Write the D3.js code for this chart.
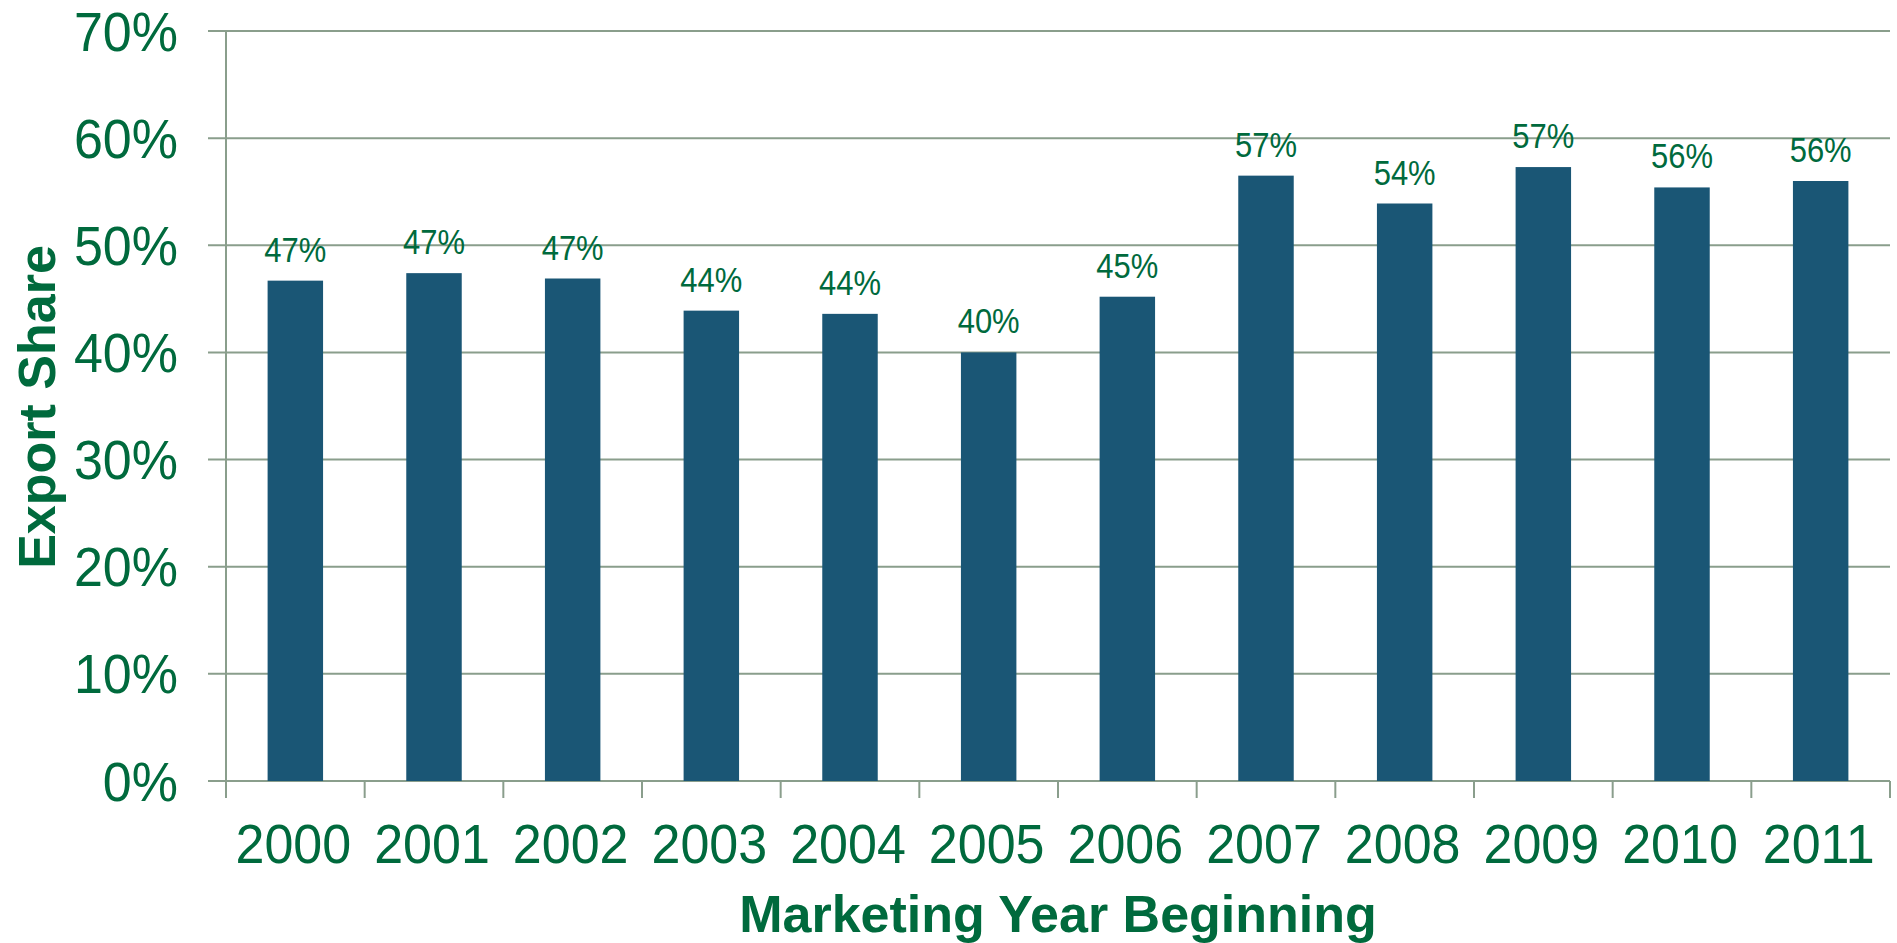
<!DOCTYPE html>
<html>
<head>
<meta charset="utf-8">
<script src="https://cdn.jsdelivr.net/npm/d3@7"></script>
<style>
  body { margin: 0; background: #fff; }
  text { font-family: "Liberation Sans", Arial, sans-serif; fill: #006a3d; }
</style>
</head>
<body>
<div id="chart"></div>
<script>
// chart data
var years = ["2000", "2001", "2002", "2003", "2004", "2005", "2006", "2007", "2008", "2009", "2010", "2011"];
var shares = [46.7, 47.4, 46.9, 43.9, 43.6, 40.0, 45.2, 56.5, 53.9, 57.3, 55.4, 56.0];
var shareLabels = ["47%", "47%", "47%", "44%", "44%", "40%", "45%", "57%", "54%", "57%", "56%", "56%"];
var yTicks = [0, 10, 20, 30, 40, 50, 60, 70];

var svgWidth = 1897;
var svgHeight = 943;
var margin = { top: 31, right: 7, bottom: 162, left: 226 };
var chartWidth = svgWidth - margin.left - margin.right;
var chartHeight = svgHeight - margin.top - margin.bottom;

var gridColor = "#8a9e8c";
var barColor = "#1a5675";

var svg = d3.select("#chart")
    .append("svg")
    .attr("width", svgWidth)
    .attr("height", svgHeight);

var chartGroup = svg.append("g")
    .attr("transform", `translate(${margin.left}, ${margin.top})`);

// scales
var xScale = d3.scaleBand()
    .domain(years)
    .range([0, chartWidth])
    .paddingInner(0.6)
    .paddingOuter(0.3);

var yScale = d3.scaleLinear()
    .domain([0, 70])
    .range([chartHeight, 0]);

// gridlines (they run past the axis as the left ticks)
chartGroup.append("g")
    .selectAll("line")
    .data(yTicks)
    .enter().append("line")
    .attr("x1", -18)
    .attr("x2", chartWidth)
    .attr("y1", d => yScale(d))
    .attr("y2", d => yScale(d))
    .attr("stroke", gridColor)
    .attr("stroke-width", 2);

// y axis labels
var leftAxis = d3.axisLeft(yScale)
    .tickValues(yTicks)
    .tickFormat(d => d + "%")
    .tickSize(0)
    .tickPadding(48);

var yAxisG = chartGroup.append("g").call(leftAxis);
yAxisG.select(".domain").remove();
yAxisG.selectAll("text")
    .attr("dy", null)
    .attr("x", null)
    .attr("transform", "translate(-48, 19) scale(1, 1.07)")
    .style("font-size", "52px")
    .style("fill", "#006a3d");

// vertical axis line
chartGroup.append("line")
    .attr("x1", 0).attr("x2", 0)
    .attr("y1", yScale(70))
    .attr("y2", chartHeight + 17)
    .attr("stroke", gridColor)
    .attr("stroke-width", 2);

// category boundary ticks
chartGroup.append("g")
    .selectAll("line")
    .data(d3.range(years.length + 1))
    .enter().append("line")
    .attr("x1", i => xScale.range()[0] + i * xScale.step())
    .attr("x2", i => xScale.range()[0] + i * xScale.step())
    .attr("y1", chartHeight)
    .attr("y2", chartHeight + 17)
    .attr("stroke", gridColor)
    .attr("stroke-width", 2);

// x axis labels
var bottomAxis = d3.axisBottom(xScale).tickSize(0);
var xAxisG = chartGroup.append("g")
    .attr("transform", `translate(0, ${chartHeight})`)
    .call(bottomAxis);
xAxisG.select(".domain").remove();
xAxisG.selectAll("text")
    .attr("y", null)
    .attr("dy", null)
    .attr("transform", "translate(-2, 82) scale(1, 1.07)")
    .style("font-size", "52px")
    .style("fill", "#006a3d");

// bars
chartGroup.selectAll("rect.bar")
    .data(shares)
    .enter().append("rect")
    .attr("class", "bar")
    .attr("x", (d, i) => xScale(years[i]))
    .attr("y", d => yScale(d))
    .attr("width", xScale.bandwidth())
    .attr("height", d => chartHeight - yScale(d))
    .attr("fill", barColor);

// value labels
chartGroup.selectAll("text.value")
    .data(shares)
    .enter().append("text")
    .attr("class", "value")
    .attr("text-anchor", "middle")
    .attr("transform", (d, i) => `translate(${xScale(years[i]) + xScale.bandwidth() / 2}, ${yScale(d) - 19}) scale(1, 1.12)`)
    .style("font-size", "31px")
    .text((d, i) => shareLabels[i]);

// y axis title
svg.append("text")
    .attr("transform", "translate(55, 407) rotate(-90)")
    .attr("text-anchor", "middle")
    .style("font-size", "52px")
    .style("font-weight", "bold")
    .text("Export Share");

// x axis title
svg.append("text")
    .attr("x", margin.left + chartWidth / 2)
    .attr("y", 932)
    .attr("text-anchor", "middle")
    .style("font-size", "52px")
    .style("font-weight", "bold")
    .text("Marketing Year Beginning");
</script>
</body>
</html>
